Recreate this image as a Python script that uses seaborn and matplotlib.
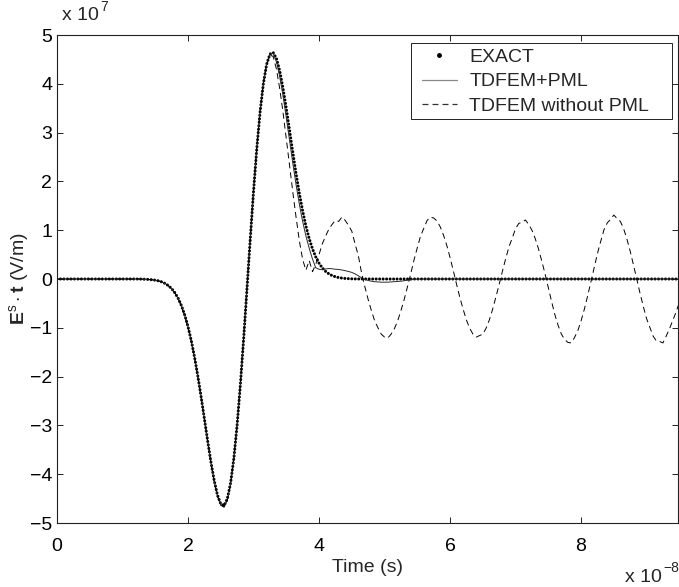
import numpy as np
import pandas as pd
import matplotlib
matplotlib.use("Agg")
import matplotlib.pyplot as plt
import seaborn as sns
from matplotlib.lines import Line2D
from matplotlib.patches import Rectangle

# ---------------- data (time in units of 1e-8 s, field in units of 1e7 V/m) ----------------
# uniform sampling grids (start, end, step 0.05)
time_exact = np.round(np.arange(1.20, 4.6001, 0.05), 2)
exact_field = [
    0.000, 0.000, -0.003, -0.006, -0.009, -0.015, -0.024, -0.038, -0.059, -0.091,
    -0.135, -0.197, -0.282, -0.397, -0.547, -0.738, -0.976, -1.264, -1.603, -1.990,
    -2.412, -2.863, -3.317, -3.750, -4.131, -4.430, -4.610, -4.643, -4.504, -4.180,
    -3.672, -2.988, -2.155, -1.212, -0.205, 0.814, 1.789, 2.671, 3.418, 3.999,
    4.397, 4.608, 4.641, 4.518, 4.263, 3.911, 3.495, 3.046, 2.591, 2.155,
    1.752, 1.394, 1.085, 0.827, 0.618, 0.452, 0.324, 0.228, 0.157, 0.106,
    0.070, 0.046, 0.029, 0.018, 0.011, 0.007, 0.004, 0.002, 0.001,
]
exact_flat_time_before = [0.0, 0.6, 1.15]
exact_flat_time_after = [5.0, 6.0, 7.0, 8.0, 9.0, 9.48]

time_pml = np.round(np.arange(1.20, 5.6001, 0.05), 2)
pml_field = [
    0.000, 0.000, -0.003, -0.006, -0.010, -0.016, -0.025, -0.039, -0.060, -0.093,
    -0.138, -0.200, -0.286, -0.402, -0.553, -0.745, -0.984, -1.272, -1.612, -2.000,
    -2.423, -2.875, -3.330, -3.765, -4.148, -4.450, -4.635, -4.675, -4.540, -4.205,
    -3.680, -2.985, -2.140, -1.190, -0.180, 0.840, 1.810, 2.690, 3.430, 4.010,
    4.405, 4.610, 4.625,
    4.450, 4.150, 3.760, 3.310, 2.840, 2.370, 1.930, 1.530, 1.180, 0.880,
    0.630, 0.410, 0.230, 0.200, 0.190, 0.205, 0.215, 0.210, 0.200, 0.195,
    0.185, 0.170, 0.155, 0.135, 0.105, 0.065, 0.025, -0.010, -0.030, -0.045,
    -0.055, -0.060, -0.065, -0.065, -0.065, -0.060, -0.055, -0.050, -0.045, -0.035,
    -0.025, -0.015, -0.008, -0.003, 0.000, 0.000,
]
pml_flat_time_before = [0.0, 0.6, 1.15]
pml_flat_time_after = [6.0, 7.0, 8.0, 9.0, 9.48]

time_nopml = np.round(np.arange(1.20, 9.5001, 0.05), 2)
nopml_field = [
    0.000, 0.000, -0.003, -0.006, -0.010, -0.016, -0.025, -0.039, -0.061, -0.094,
    -0.140, -0.203, -0.290, -0.408, -0.560, -0.752, -0.992, -1.280, -1.620, -2.008,
    -2.430, -2.880, -3.335, -3.770, -4.150, -4.450, -4.630, -4.670, -4.530, -4.195,
    -3.670, -2.970, -2.120, -1.170, -0.160, 0.860, 1.830, 2.700, 3.440, 4.010,
    4.400, 4.590,
    4.560, 4.300, 3.900, 3.420, 2.880, 2.330, 1.780, 1.260, 0.780, 0.400,
    0.180, 0.380, 0.150, 0.300, 0.500, 0.720, 0.880, 1.020, 1.120, 1.200,
    1.180, 1.270, 1.200, 1.100, 0.980, 0.720, 0.480, 0.120,
    -0.16, -0.42, -0.65, -0.86, -1.00, -1.13, -1.19, -1.21, -1.13, -1.02, -0.86, -0.65, -0.42, -0.16,
    0.11, 0.39, 0.64, 0.88, 1.04, 1.20, 1.27, 1.25, 1.19, 1.07, 0.90, 0.69, 0.44, 0.17,
    -0.11, -0.38, -0.62, -0.84, -1.01, -1.13, -1.19, -1.16, -1.13, -1.01, -0.84, -0.62, -0.37, -0.11,
    0.16, 0.42, 0.66, 0.84, 1.03, 1.14, 1.16, 1.21, 1.12, 1.00, 0.83, 0.62, 0.37, 0.11,
    -0.18, -0.46, -0.73, -0.95, -1.13, -1.24, -1.30, -1.31, -1.20, -1.06, -0.86, -0.62, -0.35, -0.06,
    0.24, 0.52, 0.77, 1.01, 1.15, 1.22, 1.31, 1.24, 1.18, 1.03, 0.82, 0.57, 0.29, 0.00,
    -0.29, -0.56, -0.81, -0.99, -1.17, -1.27, -1.28, -1.31, -1.17, -1.02, -0.85, -0.68, -0.48,
]
nopml_flat_time_before = [0.0, 0.6, 1.15]

assert len(time_exact) == len(exact_field)
assert len(time_pml) == len(pml_field)
assert len(time_nopml) == len(nopml_field)

x_ticks = [0, 2, 4, 6, 8]
y_ticks = [-5, -4, -3, -2, -1, 0, 1, 2, 3, 4, 5]
legend_labels = ["EXACT", "TDFEM+PML", "TDFEM without PML"]

df_exact = pd.DataFrame({
    "time": list(exact_flat_time_before) + list(time_exact) + list(exact_flat_time_after),
    "field": [0.0] * len(exact_flat_time_before) + exact_field + [0.0] * len(exact_flat_time_after),
})
df_pml = pd.DataFrame({
    "time": list(pml_flat_time_before) + list(time_pml) + list(pml_flat_time_after),
    "field": [0.0] * len(pml_flat_time_before) + pml_field + [0.0] * len(pml_flat_time_after),
})
df_nopml = pd.DataFrame({
    "time": list(nopml_flat_time_before) + list(time_nopml),
    "field": [0.0] * len(nopml_flat_time_before) + nopml_field,
})

# ---------------- style ----------------
sns.set_theme(style="ticks")
plt.rcParams.update({
    "font.family": ["Liberation Sans", "DejaVu Sans"],
    "mathtext.fontset": "custom",
    "mathtext.rm": "Liberation Sans",
    "mathtext.it": "Liberation Sans:italic",
    "mathtext.bf": "Liberation Sans:bold",
    "lines.scale_dashes": False,
    "axes.edgecolor": "#222222",
    "axes.linewidth": 0.8,
    "xtick.color": "#222222",
    "ytick.color": "#222222",
    "xtick.labelcolor": "black",
    "ytick.labelcolor": "black",
})

FS = 14
W, H = 679, 587
fig = plt.figure(figsize=(W / 100, H / 100), dpi=100)
ax_left, ax_right, ax_top, ax_bottom = 57, 678, 35, 523
ax = fig.add_axes([ax_left / W, 1 - ax_bottom / H, (ax_right - ax_left) / W, (ax_bottom - ax_top) / H])


def ax_x(px):
    return (px - ax_left) / (ax_right - ax_left)


def ax_y(py):
    return (ax_bottom - py) / (ax_bottom - ax_top)


sns.lineplot(data=df_exact, x="time", y="field", ax=ax, color="black", linewidth=2.2,
             linestyle=(0, (0.01, 2.5)), sort=False, estimator=None, legend=False)
ax.lines[-1].set_dash_capstyle("round")
sns.lineplot(data=df_pml, x="time", y="field", ax=ax, color="#2a2a2a", linewidth=0.7,
             sort=False, estimator=None, legend=False)
sns.lineplot(data=df_nopml, x="time", y="field", ax=ax, color="black", linewidth=0.7,
             linestyle=(0, (4.3, 2.9)), sort=False, estimator=None, legend=False)

ax.set_xlim(0, 9.48)
ax.set_ylim(-5, 5)
ax.set_xticks(x_ticks)
ax.set_yticks(y_ticks)
ax.set_xticklabels([str(v) for v in x_ticks])
ax.set_yticklabels([str(v).replace("-", "\u2212") for v in y_ticks])
ax.tick_params(direction="in", length=4.5, width=0.7, top=True, right=True, labelsize=FS)
ax.tick_params(axis="x", pad=10.5)
ax.tick_params(axis="y", pad=3.5)
for s in ax.spines.values():
    s.set_visible(True)

ax.set_xlabel("Time (s)", fontsize=FS)
ax.xaxis.set_label_coords(0.5, ax_y(559))
ax.set_ylabel(r"$\mathbf{E}^{\mathrm{s}}\cdot\mathbf{t}$ (V/m)", fontsize=FS)
ax.yaxis.set_label_coords(ax_x(31), 0.5)

# exponent annotations (axis multipliers)
fig.text(62 / W, 1 - 15 / H, "x 10", fontsize=FS, ha="left", va="center")
fig.text(100 / W, 1 - 7 / H, "7", fontsize=10, ha="left", va="center")
fig.text(662 / W, 1 - 577 / H, "x 10", fontsize=FS, ha="right", va="center")
fig.text(679 / W, 1 - 568 / H, "\u22128", fontsize=10, ha="right", va="center")

# legend: MATLAB-style box drawn as a frame, entries inside
frame = Rectangle((ax_x(410.5), ax_y(118.5)), ax_x(671.5) - ax_x(410.5), ax_y(42.5) - ax_y(118.5),
                  transform=ax.transAxes, facecolor="white", edgecolor="#222222",
                  linewidth=0.7, zorder=4.5, clip_on=False)
ax.add_patch(frame)
handles = [
    Line2D([], [], color="black", marker=".", markersize=5, linestyle="none"),
    Line2D([], [], color="#888888", linewidth=0.9),
    Line2D([], [], color="#333333", linewidth=0.9, linestyle=(0, (4.3, 2.9))),
]
leg = ax.legend(handles, legend_labels, loc="center left",
                bbox_to_anchor=(ax_x(421.5), ax_y(81.5)),
                borderaxespad=0, fontsize=FS, frameon=False,
                handlelength=1.85, handletextpad=0.6,
                labelspacing=0.35, borderpad=0.0)
leg.set_zorder(5)

fig.savefig("out.png", dpi=100)
